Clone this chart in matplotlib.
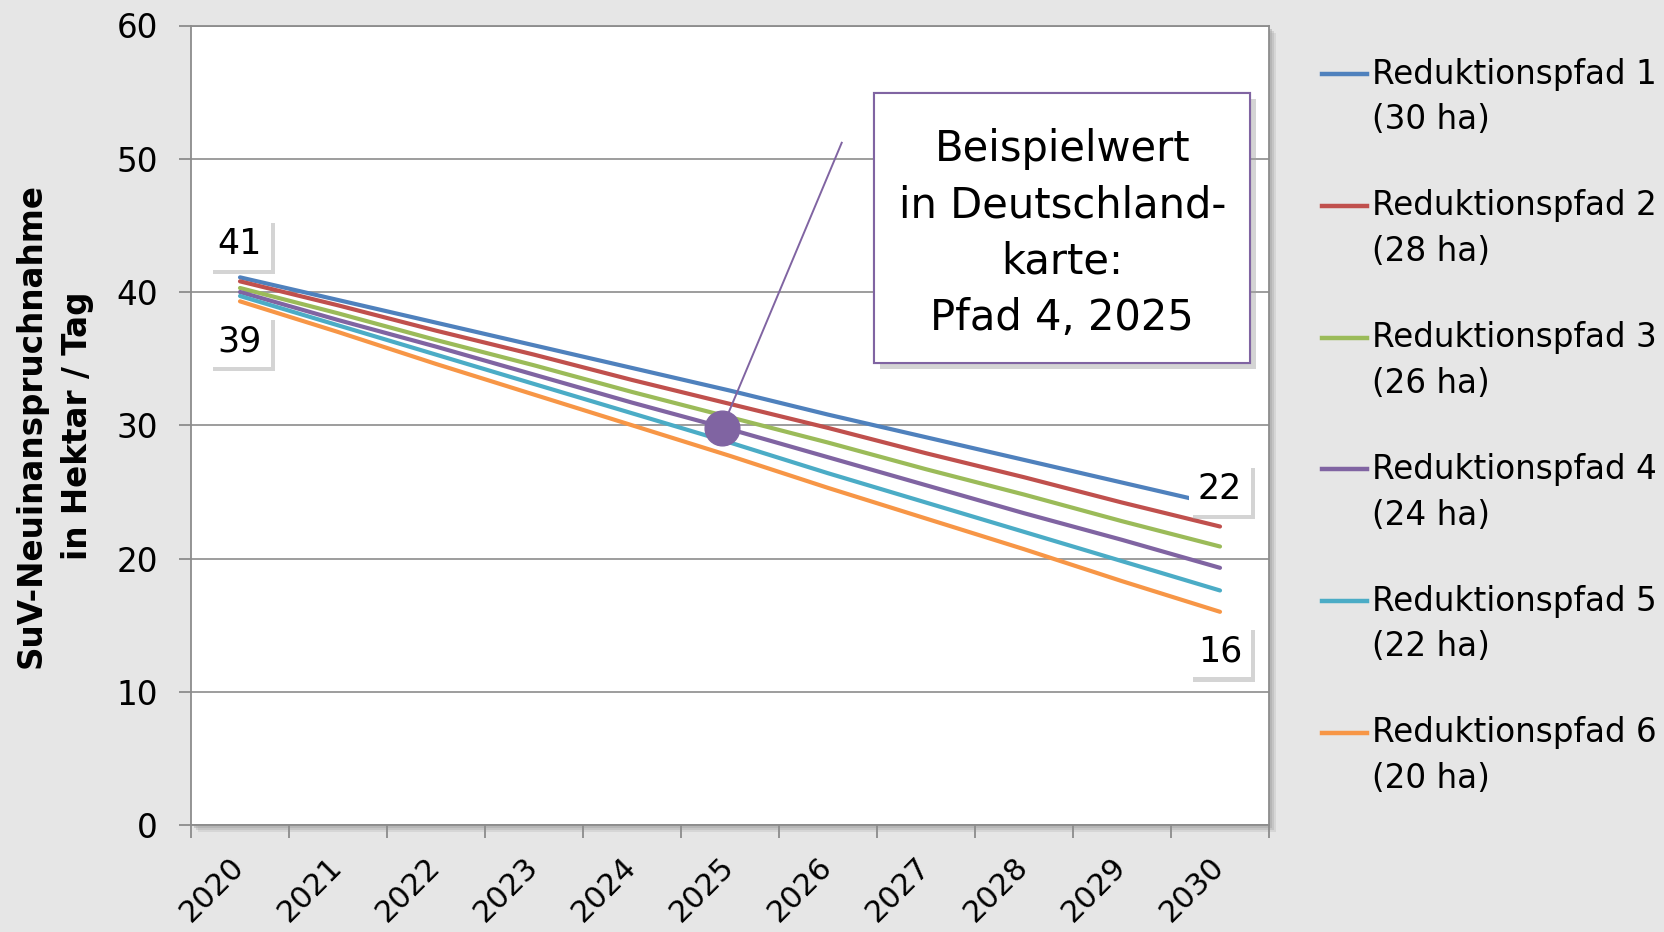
import numpy as np
import matplotlib.pyplot as plt
from matplotlib.patches import Rectangle
from matplotlib.lines import Line2D
import matplotlib.patheffects as pe

plt.rcParams['font.family'] = ['DejaVu Sans']

# data
years = ['2020', '2021', '2022', '2023', '2024', '2025', '2026', '2027', '2028', '2029', '2030']
pfad1 = [41.1, 39.4, 37.7, 36.0, 34.3, 32.6, 30.8, 29.1, 27.4, 25.7, 24.0]
pfad2 = [40.8, 39.0, 37.1, 35.3, 33.4, 31.6, 29.8, 27.9, 26.1, 24.2, 22.4]
pfad3 = [40.3, 38.4, 36.4, 34.5, 32.5, 30.6, 28.7, 26.7, 24.8, 22.8, 20.9]
pfad4 = [40.0, 37.9, 35.9, 33.8, 31.7, 29.7, 27.6, 25.5, 23.4, 21.4, 19.3]
pfad5 = [39.7, 37.5, 35.3, 33.1, 30.9, 28.7, 26.4, 24.2, 22.0, 19.8, 17.6]
pfad6 = [39.3, 37.0, 34.6, 32.3, 30.0, 27.7, 25.3, 23.0, 20.7, 18.3, 16.0]
names = ['Reduktionspfad 1', 'Reduktionspfad 2', 'Reduktionspfad 3',
         'Reduktionspfad 4', 'Reduktionspfad 5', 'Reduktionspfad 6']
areas = ['(30 ha)', '(28 ha)', '(26 ha)', '(24 ha)', '(22 ha)', '(20 ha)']
colors = ['#4F81BD', '#C0504D', '#9BBB59', '#8064A2', '#4BACC6', '#F79646']
labels_start = [('41', 0, 43.6), ('39', 0, 36.3)]
labels_end = [('22', 10, 25.2), ('16', 10, 13.0)]
example_x, example_y = 4.92, 29.8

W, H = 1665, 932
fig = plt.figure(figsize=(W / 100, H / 100), dpi=100)
fig.patch.set_facecolor('#e6e6e6')

l, r, t, b = 191, 1269, 25.5, 825
ax = fig.add_axes([l / W, 1 - b / H, (r - l) / W, (b - t) / H])
ax.set_facecolor('white')

# soft drop shadow of plot area
for k, a in [(7, 0.25), (5, 0.35), (3, 0.5)]:
    fig.patches.append(Rectangle(((l + k) / W, 1 - (b + k) / H), (r - l) / W, (b - t) / H,
                                 transform=fig.transFigure, facecolor='#a8a8a8',
                                 edgecolor='none', alpha=a, zorder=-1))

x = np.arange(len(years))
for s, c in zip([pfad1, pfad2, pfad3, pfad4, pfad5, pfad6], colors):
    ax.plot(x, s, color=c, lw=3.0, solid_capstyle='round', zorder=3)

ax.set_xlim(-0.5, 10.5)
ax.set_ylim(0, 60)
ax.set_yticks(range(0, 61, 10))
ax.yaxis.grid(True, color='#8c8c8c', lw=1.2)
ax.set_axisbelow(True)
for sp in ax.spines.values():
    sp.set_color('#8c8c8c')
    sp.set_linewidth(1.3)
ax.tick_params(axis='y', length=9, width=1.3, color='#8c8c8c', pad=15, labelsize=23.5)

ax.set_xticks(x)
ax.set_xticklabels(years, rotation=45, ha='right', va='center', rotation_mode='anchor',
                   fontsize=22)
ax.tick_params(axis='x', length=0, pad=27)
ax.set_xticks(np.arange(-0.5, 11, 1), minor=True)
ax.tick_params(axis='x', which='minor', length=9, width=1.3, color='#8c8c8c')

ax.set_ylabel('SuV-Neuinanspruchnahme\nin Hektar / Tag', fontsize=23.5,
              fontweight='bold', labelpad=16, linespacing=1.5)

shadow = [pe.withSimplePatchShadow(offset=(3, -3), shadow_rgbFace='#a0a0a0', alpha=0.45)]
for txt, xi, yi in labels_start + labels_end:
    tx = ax.text(xi, yi, txt, ha='center', va='center', fontsize=25, zorder=6,
                 bbox=dict(boxstyle='square,pad=0.25', facecolor='white', edgecolor='none'))
    tx.get_bbox_patch().set_path_effects(shadow + [pe.Normal()])

# example marker with callout
ax.plot([example_x, 6.14], [example_y, 51.2], color='#8064A2', lw=1.4, zorder=4)
ax.plot(example_x, example_y, 'o', ms=25, color='#8064A2', mec='#8064A2', zorder=5)

box = Rectangle((6.47, 34.66), 3.84, 20.24, facecolor='white', edgecolor='#8064A2',
                lw=1.5, zorder=6)
box.set_path_effects([pe.withSimplePatchShadow(offset=(4, -4), shadow_rgbFace='#a0a0a0', alpha=0.45),
                      pe.Normal()])
ax.add_patch(box)
ax.text(8.39, 44.4, 'Beispielwert\nin Deutschland-\nkarte:\nPfad 4, 2025', ha='center',
        va='center', fontsize=30, linespacing=1.44, zorder=7)

# legend drawn by hand so the line sits on the first text line
for i, (n, a, c) in enumerate(zip(names, areas, colors)):
    yp = 74.3 + 131.7 * i
    fig.add_artist(Line2D([1322 / W, 1367 / W], [1 - yp / H, 1 - yp / H], color=c, lw=3.2))
    fig.text(1372 / W, 1 - yp / H, n, fontsize=23.5, va='center', ha='left')
    fig.text(1372 / W, 1 - (yp + 45.7) / H, a, fontsize=23.5, va='center', ha='left')

fig.savefig('out.png', dpi=100, facecolor=fig.get_facecolor())
